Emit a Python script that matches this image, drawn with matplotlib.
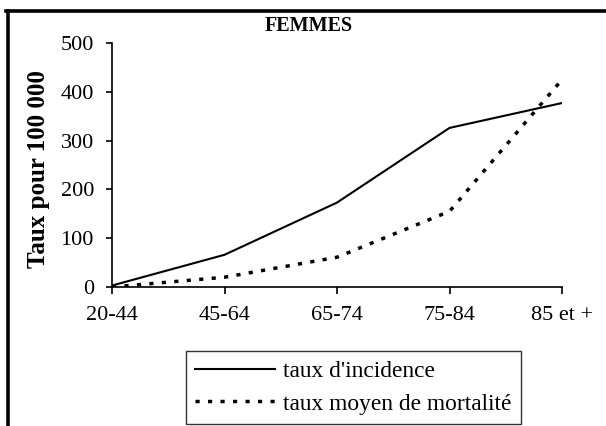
import matplotlib.pyplot as plt
from matplotlib.lines import Line2D

# données
categories = ['20-44', '45-64', '65-74', '75-84', '85 et +']
incidence = [3, 66, 173, 326, 377]
mortalite = [0, 20, 61, 155, 425]
yticks = [0, 100, 200, 300, 400, 500]

plt.rcParams['font.family'] = ['Liberation Serif', 'DejaVu Serif']

fig = plt.figure(figsize=(6.06, 4.26), dpi=100)
ax = fig.add_axes([112 / 606, 1 - 287 / 426, 450 / 606, 244 / 426])

x = list(range(len(categories)))
ax.plot(x, incidence, color='black', lw=1.5, label="taux d'incidence")
ax.plot(x, mortalite, color='black', lw=2.5, linestyle=(0, (1.2, 2.4)),
        label='taux moyen de mortalité')

ax.set_xlim(0, len(categories) - 1)
ax.set_ylim(0, 500)
ax.set_xticks(x)
ax.set_xticklabels(categories)
ax.set_yticks(yticks)
ax.tick_params(axis='x', direction='out', length=5, width=1.2, pad=9, labelsize=16)
ax.tick_params(axis='y', direction='out', length=4, width=1.2, pad=9, labelsize=16)
for s in ['top', 'right']:
    ax.spines[s].set_visible(False)
for s in ['left', 'bottom']:
    ax.spines[s].set_linewidth(1.2)
ax.set_ylabel('Taux pour 100 000', fontsize=18, fontweight='bold')
ax.yaxis.set_label_coords(-62 / 450, 118 / 244)

fig.text(309 / 606, 1 - 26 / 426, 'FEMMES', ha='center', va='center',
         fontsize=14.5, fontweight='bold')

leg = fig.legend(loc='upper left', bbox_to_anchor=(186 / 606, 1 - 351 / 426),
                 fontsize=16.8, handlelength=3.4, handletextpad=0.35,
                 borderpad=0.4, labelspacing=0.5, fancybox=False,
                 frameon=True, borderaxespad=0)
leg.get_frame().set_edgecolor('black')
leg.get_frame().set_linewidth(1.0)

# cadre du graphique (haut et gauche seulement)
fig.add_artist(Line2D([7.5 / 606, 7.5 / 606], [0, 1 - 10.5 / 426],
                      color='black', lw=2.6, transform=fig.transFigure))
fig.add_artist(Line2D([6 / 606, 1], [1 - 10.5 / 426, 1 - 10.5 / 426],
                      color='black', lw=2.6, transform=fig.transFigure))

fig.savefig('out.png', dpi=100)
